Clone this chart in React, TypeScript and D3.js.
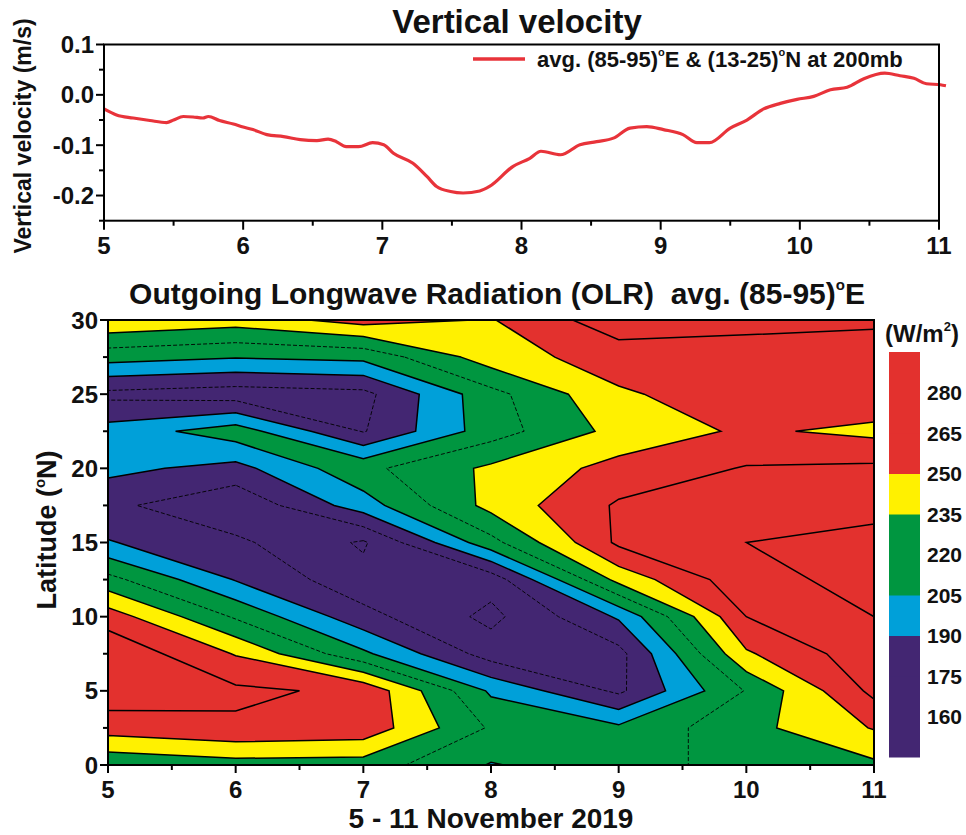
import React from "react";
import * as d3 from "d3";

// ---- top panel: 200 mb vertical velocity ----
const vvDays = [5.0, 5.09, 5.21, 5.33, 5.45, 5.5, 5.57, 5.64, 5.71, 5.75, 5.83, 5.93, 6.0, 6.07, 6.17, 6.29, 6.41, 6.53, 6.61, 6.67, 6.74, 6.83, 6.93, 7.01, 7.08, 7.22, 7.32, 7.39, 7.49, 7.58, 7.7, 7.77, 7.94, 8.06, 8.14, 8.28, 8.42, 8.54, 8.66, 8.78, 8.9, 9.02, 9.16, 9.26, 9.35, 9.5, 9.62, 9.74, 9.86, 9.98, 10.1, 10.22, 10.34, 10.46, 10.61, 10.72, 10.82, 10.91, 11.01, 11.05];
const vvValues = [-0.028, -0.04, -0.046, -0.051, -0.055, -0.05, -0.043, -0.044, -0.046, -0.043, -0.051, -0.058, -0.064, -0.069, -0.079, -0.083, -0.089, -0.091, -0.088, -0.093, -0.103, -0.103, -0.095, -0.099, -0.116, -0.136, -0.162, -0.182, -0.192, -0.195, -0.191, -0.182, -0.142, -0.126, -0.112, -0.119, -0.099, -0.093, -0.086, -0.066, -0.063, -0.069, -0.079, -0.095, -0.095, -0.066, -0.05, -0.028, -0.017, -0.009, -0.003, 0.01, 0.015, 0.032, 0.043, 0.038, 0.033, 0.022, 0.02, 0.018];
const vvTicks = [-0.2, -0.1, 0.0, 0.1];
const vvMinorTicks = [-0.25, -0.15, -0.05, 0.05];

// ---- bottom panel: OLR (W/m2), one column per day, lat 0 -> 30 by 2.5 ----
const days = [5, 6, 7, 8, 9, 10, 11];
const lats = [0, 2.5, 5, 7.5, 10, 12.5, 15, 17.5, 20, 22.5, 25, 27.5, 30];
const olrNov5 = [223, 257, 274, 277, 258, 225, 191, 178.5, 194, 196, 171, 211, 248];
const olrNov6 = [229, 262.5, 268, 249, 218, 189, 178, 163, 185, 213, 167, 206, 242];
const olrNov7 = [228, 260, 262, 208, 180, 165, 158, 198, 216, 174, 170.5, 209, 256];
const olrNov8 = [204, 218, 202.5, 168, 156, 166, 215, 240, 238, 213, 215, 243, 249];
const olrNov9 = [214, 208, 172, 170, 192, 240, 268, 267, 255, 240, 248, 257, 274];
const olrNov10 = [225, 230, 221, 248, 265, 275, 280, 275, 266, 252.5, 258, 262, 267];
const olrNov11 = [232, 251, 269, 275, 280, 285, 284, 276, 268, 246, 262, 262, 266];
const olrColumns = [olrNov5, olrNov6, olrNov7, olrNov8, olrNov9, olrNov10, olrNov11];

// colour bands, painted from the top band down (each layer = area at or below its level)
const fillLevels = [Infinity, 250, 235, 205, 190];
const fillColors = ["#e3312e", "#fff100", "#009640", "#00a0d9", "#432672"];
const lineLevels = [160, 175, 190, 205, 220, 235, 250, 265, 280];
const dashedLevels = [160, 175, 220];
const lowJoinLevels = [160, 175]; // saddles joined on the low side for these
const barLabels = [160, 175, 190, 205, 220, 235, 250, 265, 280];
const barEdges = [145, 160, 175, 190, 205, 220, 235, 250, 265, 280, 295];
const latTicks = [0, 5, 10, 15, 20, 25, 30];
const latMinor = [2.5, 7.5, 12.5, 17.5, 22.5, 27.5];
const dayMinor = [5.5, 6.5, 7.5, 8.5, 9.5, 10.5];

const FONT = "'Liberation Sans', Arial, sans-serif";

export default function App() {
  // scales
  const xTop = d3.scaleLinear().domain([5, 11]).range([104, 939]);
  const yTop = d3.scaleLinear().domain([-0.25, 0.1]).range([220.7, 44.5]);
  const xBot = d3.scaleLinear().domain([5, 11]).range([108, 874]);
  const yBot = d3.scaleLinear().domain([0, 30]).range([765, 320]);
  const yBar = d3.scaleLinear().domain([145, 295]).range([757, 352]);
  const bandColor = d3
    .scaleThreshold<number, string>()
    .domain([190, 205, 235, 250])
    .range(fillColors.slice().reverse());

  const line = d3
    .line<number>()
    .x((d, i) => xTop(vvDays[i]))
    .y((d) => yTop(d))
    .curve(d3.curveMonotoneX);

  // grid, row-major, row 0 = lat 0
  const nx = days.length;
  const ny = lats.length;
  const values: number[] = [];
  for (let j = 0; j < ny; j++) for (let i = 0; i < nx; i++) values.push(olrColumns[i][j]);
  const neg = values.map((v) => -v); // negated field: saddles join the high values

  const contours = d3.contours().size([nx, ny]);
  const step = lats[1] - lats[0];
  const proj = d3.geoTransform({
    point: function (x: number, y: number) {
      (this as any).stream.point(xBot(days[0] - 0.5 + x), yBot((y - 0.5) * step));
    },
  });
  const geo = d3.geoPath(proj);

  const fills = fillLevels.map((t, k) => ({
    d: geo(contours.contour(neg, t === Infinity ? -1e9 : -t) as any) || "",
    c: fillColors[k],
  }));
  const lines = lineLevels.map((t) => ({
    d: geo((lowJoinLevels.includes(t) ? contours.contour(values, t) : contours.contour(neg, -t)) as any) || "",
    t,
  }));

  const tickLabel = { fontFamily: FONT, fontWeight: 700, fontSize: 24, fill: "#111" } as const;

  return (
    <svg width={966} height={835} style={{ position: "absolute", left: 0, top: 0, background: "#fff" }}>
      <defs>
        <clipPath id="olrClip">
          <rect x={xBot(5)} y={yBot(30)} width={xBot(11) - xBot(5)} height={yBot(0) - yBot(30)} />
        </clipPath>
      </defs>

      {/* ---------- top panel ---------- */}
      <text x={517} y={33} textAnchor="middle" style={{ ...tickLabel, fontSize: 33 }}>
        Vertical velocity
      </text>
      <text transform="translate(31,136) rotate(-90)" textAnchor="middle" style={{ ...tickLabel, fontSize: 23 }}>
        Vertical velocity (m/s)
      </text>
      <path d={line(vvValues) || ""} fill="none" stroke="#e8333a" strokeWidth={3.2} />
      <rect x={xTop(5)} y={yTop(0.1)} width={xTop(11) - xTop(5)} height={yTop(-0.25) - yTop(0.1)} fill="none" stroke="#000" strokeWidth={2} />
      {vvTicks.map((v) => (
        <g key={v}>
          <line x1={xTop(5) - 8} x2={xTop(5)} y1={yTop(v)} y2={yTop(v)} stroke="#000" strokeWidth={2} />
          <text x={xTop(5) - 10} y={yTop(v)} dy="0.36em" textAnchor="end" style={tickLabel}>
            {v.toFixed(1)}
          </text>
        </g>
      ))}
      {vvMinorTicks.map((v) => (
        <line key={v} x1={xTop(5) - 5} x2={xTop(5)} y1={yTop(v)} y2={yTop(v)} stroke="#000" strokeWidth={2} />
      ))}
      {days.map((d) => (
        <g key={d}>
          <line x1={xTop(d)} x2={xTop(d)} y1={yTop(-0.25)} y2={yTop(-0.25) + 9} stroke="#000" strokeWidth={2} />
          <text x={xTop(d)} y={254} textAnchor="middle" style={tickLabel}>
            {d}
          </text>
        </g>
      ))}
      {dayMinor.map((d) => (
        <line key={d} x1={xTop(d)} x2={xTop(d)} y1={yTop(-0.25)} y2={yTop(-0.25) + 5} stroke="#000" strokeWidth={2} />
      ))}
      {/* legend */}
      <line x1={473} x2={525} y1={59} y2={59} stroke="#e8333a" strokeWidth={3.5} />
      <text x={537} y={67} style={{ ...tickLabel, fontSize: 22 }}>
        avg. (85-95)
        <tspan fontSize={11} dy={-11}>o</tspan>
        <tspan dy={11}>E &amp; (13-25)</tspan>
        <tspan fontSize={11} dy={-11}>o</tspan>
        <tspan dy={11}>N at 200mb</tspan>
      </text>

      {/* ---------- bottom panel ---------- */}
      <text x={497} y={304} textAnchor="middle" style={{ ...tickLabel, fontSize: 30, whiteSpace: "pre" }}>
        {"Outgoing Longwave Radiation (OLR)  avg. (85-95)"}
        <tspan fontSize={15} dy={-14}>o</tspan>
        <tspan dy={14}>E</tspan>
      </text>
      <g clipPath="url(#olrClip)">
        {fills.map((f, k) => (
          <path key={k} d={f.d} fill={f.c} stroke="none" />
        ))}
        {lines.map((l) => (
          <path
            key={l.t}
            d={l.d}
            fill="none"
            stroke="#000"
            strokeWidth={dashedLevels.includes(l.t) ? 0.9 : 1.5}
            strokeDasharray={dashedLevels.includes(l.t) ? "4,2" : undefined}
          />
        ))}
      </g>
      <rect x={xBot(5)} y={yBot(30)} width={xBot(11) - xBot(5)} height={yBot(0) - yBot(30)} fill="none" stroke="#000" strokeWidth={2} />
      {latTicks.map((v) => (
        <g key={v}>
          <line x1={xBot(5) - 8} x2={xBot(5)} y1={yBot(v)} y2={yBot(v)} stroke="#000" strokeWidth={2} />
          <text x={xBot(5) - 10} y={yBot(v)} dy="0.36em" textAnchor="end" style={tickLabel}>
            {v}
          </text>
        </g>
      ))}
      {latMinor.map((v) => (
        <line key={v} x1={xBot(5) - 5} x2={xBot(5)} y1={yBot(v)} y2={yBot(v)} stroke="#000" strokeWidth={2} />
      ))}
      {days.map((d) => (
        <g key={d}>
          <line x1={xBot(d)} x2={xBot(d)} y1={yBot(0)} y2={yBot(0) + 8} stroke="#000" strokeWidth={2} />
          <text x={xBot(d)} y={798} textAnchor="middle" style={tickLabel}>
            {d}
          </text>
        </g>
      ))}
      {dayMinor.map((d) => (
        <line key={d} x1={xBot(d)} x2={xBot(d)} y1={yBot(0)} y2={yBot(0) + 5} stroke="#000" strokeWidth={2} />
      ))}
      <text x={491} y={828} textAnchor="middle" style={{ ...tickLabel, fontSize: 28 }}>
        5 - 11 November 2019
      </text>
      <text transform="translate(56,530) rotate(-90)" textAnchor="middle" style={{ ...tickLabel, fontSize: 27 }}>
        Latitude (
        <tspan fontSize={15} dy={-11}>o</tspan>
        <tspan dy={11}>N)</tspan>
      </text>

      {/* ---------- colour bar ---------- */}
      <text x={922} y={342} textAnchor="middle" style={{ ...tickLabel, fontSize: 24 }}>
        (W/m
        <tspan fontSize={13} dy={-11}>2</tspan>
        <tspan dy={11}>)</tspan>
      </text>
      {barEdges.slice(0, -1).map((lo, k) => (
        <rect
          key={lo}
          x={889}
          y={yBar(barEdges[k + 1])}
          width={31}
          height={yBar(lo) - yBar(barEdges[k + 1]) + 0.5}
          fill={bandColor(lo)}
        />
      ))}
      {barLabels.map((v) => (
        <text key={v} x={927} y={yBar(v)} dy="0.36em" style={{ ...tickLabel, fontSize: 21 }}>
          {v}
        </text>
      ))}
    </svg>
  );
}
